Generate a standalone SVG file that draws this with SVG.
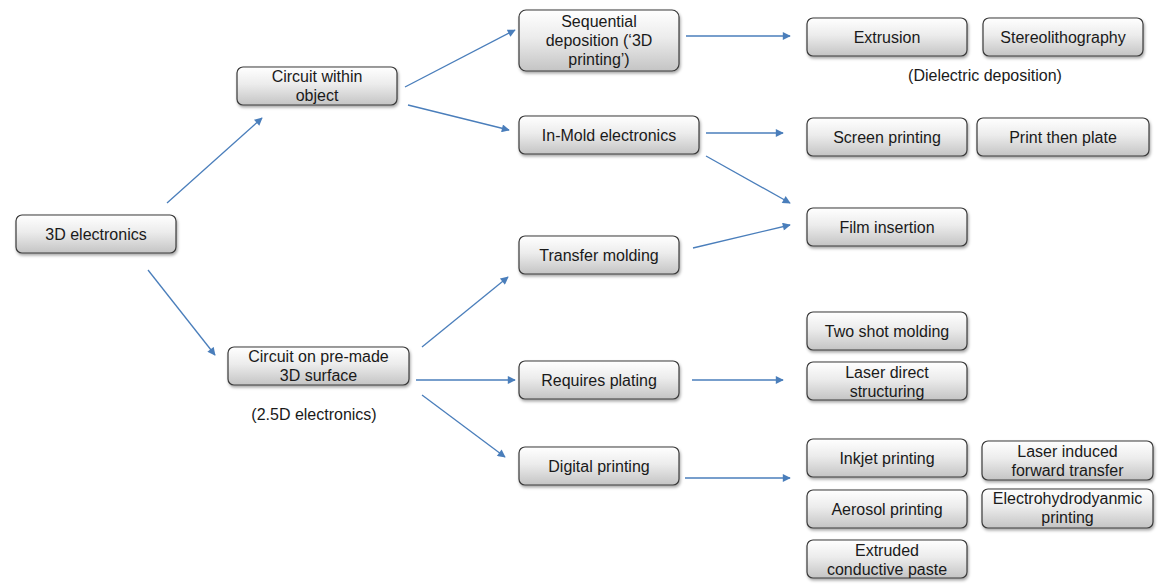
<svg xmlns="http://www.w3.org/2000/svg" width="1164" height="584" viewBox="0 0 1164 584">
<defs>
<linearGradient id="g" x1="0" y1="0" x2="0" y2="1">
<stop offset="0" stop-color="#ffffff"/>
<stop offset="0.45" stop-color="#ececec"/>
<stop offset="1" stop-color="#c4c4c4"/>
</linearGradient>
<filter id="sh" x="-10%" y="-20%" width="120%" height="150%">
<feDropShadow dx="1" dy="2" stdDeviation="1.5" flood-color="#000" flood-opacity="0.35"/>
</filter>
<marker id="ah" viewBox="0 0 10 10" refX="9" refY="5" markerWidth="10" markerHeight="8" markerUnits="userSpaceOnUse" orient="auto">
<path d="M0,0 L10,5 L0,10 z" fill="#4a7ebb"/>
</marker>
<style>
.b{fill:url(#g);stroke:#3a3a3a;stroke-width:1.2;filter:url(#sh)}
text{font-family:"Liberation Sans",Arial,sans-serif;font-size:16px;fill:#1a1a1a;text-anchor:middle}
.c line{stroke:#4a7ebb;stroke-width:1.3;marker-end:url(#ah)}
</style>
</defs>
<rect width="1164" height="584" fill="#fff"/>
<g class="c" id="connectors">
<line x1="167" y1="203" x2="262" y2="118"/>
<line x1="148" y1="270" x2="215" y2="355"/>
<line x1="405" y1="87" x2="515" y2="30"/>
<line x1="408" y1="105" x2="509" y2="130"/>
<line x1="686" y1="36" x2="790" y2="36"/>
<line x1="706" y1="133" x2="783" y2="133"/>
<line x1="706" y1="156" x2="790" y2="203"/>
<line x1="693" y1="248" x2="790" y2="225"/>
<line x1="422" y1="347" x2="508" y2="277"/>
<line x1="416" y1="380" x2="515" y2="380"/>
<line x1="422" y1="395" x2="505" y2="457"/>
<line x1="692" y1="380" x2="783" y2="380"/>
<line x1="685" y1="478" x2="790" y2="478"/>
</g>
<g id="n3d"><rect class="b" x="16" y="215" width="160" height="38" rx="6"/><text x="96" y="240">3D electronics</text></g>
<g id="nwithin"><rect class="b" x="237" y="67" width="160" height="38" rx="6"/><text x="317" y="82">Circuit within</text><text x="317" y="101">object</text></g>
<g id="non"><rect class="b" x="228" y="347" width="181" height="38" rx="6"/><text x="318.5" y="362">Circuit on pre-made</text><text x="318.5" y="381">3D surface</text></g>
<text x="314" y="420">(2.5D electronics)</text>
<g id="nseq"><rect class="b" x="519" y="10" width="160" height="61" rx="7"/><text x="599" y="27">Sequential</text><text x="599" y="46">deposition (‘3D</text><text x="599" y="65">printing’)</text></g>
<g id="nimold"><rect class="b" x="519" y="116" width="180" height="38" rx="6"/><text x="609" y="141">In-Mold electronics</text></g>
<g id="ntransfer"><rect class="b" x="519" y="236" width="160" height="38" rx="6"/><text x="599" y="261">Transfer molding</text></g>
<g id="nplating"><rect class="b" x="519" y="361" width="160" height="38" rx="6"/><text x="599" y="386">Requires plating</text></g>
<g id="ndigital"><rect class="b" x="519" y="447" width="160" height="38" rx="6"/><text x="599" y="472">Digital printing</text></g>
<g id="nextrusion"><rect class="b" x="807" y="18" width="160" height="38" rx="6"/><text x="887" y="43">Extrusion</text></g>
<g id="nstereo"><rect class="b" x="983" y="18" width="160" height="38" rx="6"/><text x="1063" y="43">Stereolithography</text></g>
<text x="985" y="81">(Dielectric deposition)</text>
<g id="nscreen"><rect class="b" x="807" y="118" width="160" height="38" rx="6"/><text x="887" y="143">Screen printing</text></g>
<g id="nptp"><rect class="b" x="977" y="118" width="172" height="38" rx="6"/><text x="1063" y="143">Print then plate</text></g>
<g id="nfilm"><rect class="b" x="807" y="208" width="160" height="38" rx="6"/><text x="887" y="233">Film insertion</text></g>
<g id="ntwoshot"><rect class="b" x="807" y="312" width="160" height="38" rx="6"/><text x="887" y="337">Two shot molding</text></g>
<g id="nlds"><rect class="b" x="807" y="362" width="160" height="38" rx="6"/><text x="887" y="377.5">Laser direct</text><text x="887" y="396.5">structuring</text></g>
<g id="ninkjet"><rect class="b" x="807" y="439" width="160" height="38" rx="6"/><text x="887" y="464">Inkjet printing</text></g>
<g id="nlift"><rect class="b" x="982" y="441" width="171" height="39" rx="6"/><text x="1067.5" y="457">Laser induced</text><text x="1067.5" y="476">forward transfer</text></g>
<g id="naerosol"><rect class="b" x="807" y="490" width="160" height="38" rx="6"/><text x="887" y="515">Aerosol printing</text></g>
<g id="nehd"><rect class="b" x="982" y="489" width="171" height="39" rx="6"/><text x="1067.5" y="504">Electrohydrodyanmic</text><text x="1067.5" y="523">printing</text></g>
<g id="nextruded"><rect class="b" x="807" y="540" width="160" height="38" rx="6"/><text x="887" y="555.5">Extruded</text><text x="887" y="574.5">conductive paste</text></g>
</svg>
